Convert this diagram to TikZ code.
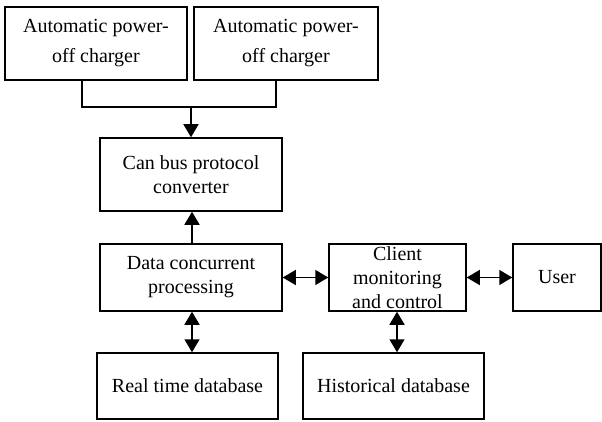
\documentclass[tikz,border=0pt]{standalone}
\usepackage{fontspec}
\setmainfont{Liberation Serif}
\usetikzlibrary{arrows.meta}
\begin{document}
\begin{tikzpicture}[x=1pt,y=-1pt,
  box/.style={draw, line width=1.5pt, rectangle, inner sep=0pt, align=center,
    font=\fontsize{20}{24}\selectfont},
  link/.style={line width=1.5pt},
  arr/.style={line width=1.5pt, -{Triangle[length=13pt,width=15pt]}},
  darr/.style={line width=1.5pt, {Triangle[length=13pt,width=15pt]}-{Triangle[length=13pt,width=15pt]}}]
\useasboundingbox (0,0) rectangle (602,422);

% chargers
\node[box, minimum width=182pt, minimum height=73pt,
  font=\fontsize{20}{30}\selectfont] (c1) at (96,43.5) {Automatic power-\\off charger};
\node[box, minimum width=184pt, minimum height=73pt,
  font=\fontsize{20}{30}\selectfont] (c2) at (286,43.5) {Automatic power-\\off charger};

% central chain
\node[box, minimum width=182pt, minimum height=73pt] (can) at (191,174.5) {Can bus protocol\\converter};
\node[box, minimum width=182pt, minimum height=67pt] (dcp) at (191,277.5) {Data concurrent\\processing};
\node[box, minimum width=137pt, minimum height=67pt] (cli) at (397.5,277.5) {Client\\monitoring\\and control};
\node[box, minimum width=88pt, minimum height=67pt] (usr) at (557,277.5) {User};

% databases
\node[box, minimum width=181pt, minimum height=66pt] (rtd) at (187.5,386) {Real time database};
\node[box, minimum width=181pt, minimum height=66pt] (hdb) at (393.5,386) {Historical database};

% merge of the two chargers
\coordinate (jl) at (82,107);
\coordinate (jr) at (276,107);
\coordinate (jm) at (191,107);
\draw[link] (c1.south -| jl) -- (jl) -- (jr) -- (c2.south -| jr);
\draw[arr] (jm) -- (can.north -| jm);

% data flow
\coordinate (xa) at (192,0);
\coordinate (xb) at (397,0);
\draw[arr] (dcp.north -| xa) -- (can.south -| xa);
\draw[darr] (dcp.east) -- (cli.west);
\draw[darr] (cli.east) -- (usr.west);
\draw[darr] (dcp.south -| xa) -- (rtd.north -| xa);
\draw[darr] (cli.south -| xb) -- (hdb.north -| xb);
\end{tikzpicture}
\end{document}
